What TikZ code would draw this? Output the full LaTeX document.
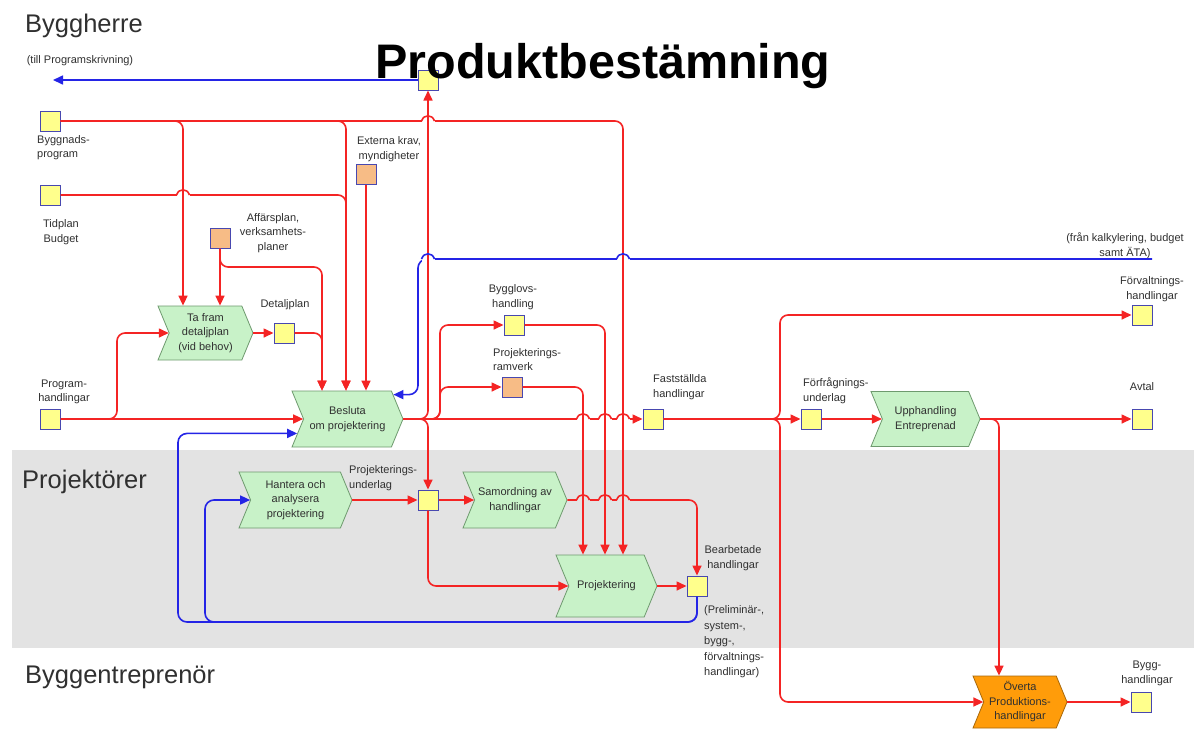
\documentclass[tikz,border=0pt]{standalone}
\usepackage{fontspec}
\setmainfont{Liberation Sans}
\usetikzlibrary{arrows.meta,shapes.symbols}

\definecolor{flowred}{HTML}{F42424}
\definecolor{flowblue}{HTML}{2424E6}
\definecolor{sqedge}{HTML}{4848B0}
\definecolor{sqyellow}{HTML}{FFFF8C}
\definecolor{sqorange}{HTML}{F7BC86}
\definecolor{procgreen}{HTML}{C8F2C8}
\definecolor{procedge}{HTML}{6E9A6E}
\definecolor{takeorange}{HTML}{FF9C0A}
\definecolor{takeedge}{HTML}{A8680A}
\definecolor{band}{HTML}{E3E3E3}
\definecolor{txt}{HTML}{303030}

% a line hopping over a red vertical run: x, y, background, colour of the hopping line
\newcommand\linejump[4]{%
  \fill[#3] (#1-6.5,#2-2.5) rectangle (#1+6.5,#2+2.5);
  \draw[flowred, line width=1.6pt] (#1,#2-5) -- (#1,#2+5);
  \draw[#4, line width=1.6pt] (#1-6.5,#2) .. controls (#1-4,#2-7) and (#1+4,#2-7) .. (#1+6.5,#2);
}

\begin{document}
\begin{tikzpicture}[x=1pt,y=-1pt,
  sq/.style={draw=sqedge, fill=sqyellow, line width=1pt, minimum size=20pt, inner sep=0pt},
  sqo/.style={sq, fill=sqorange},
  proc/.style={signal, signal to=east, signal from=west, signal pointer angle=135,
    draw=procedge, fill=procgreen, line width=0.8pt, text=txt, align=center,
    font=\fontsize{11}{14.5}\selectfont, inner sep=0pt},
  lbl/.style={text=txt, font=\fontsize{11}{14.5}\selectfont, inner sep=0pt},
  lane/.style={text=txt, font=\fontsize{25.5}{28}\selectfont, inner sep=0pt, anchor=base west},
  flow/.style={draw=flowred, line width=1.6pt, rounded corners=8pt},
  bflow/.style={draw=flowblue, line width=1.6pt, rounded corners=9pt},
  arr/.style={-{Triangle[length=10pt,width=9pt]}}
]
\useasboundingbox (0,0) rectangle (1194,729);
\fill[white] (0,0) rectangle (1194,729);
\fill[band] (12,450) rectangle (1194,648);

% swimlane titles
\node[lane] (laneA) at (25,32) {Byggherre};
\node[lane] (laneB) at (22,488) {Projektörer};
\node[lane] (laneC) at (25,683) {Byggentreprenör};

% column coordinates for vertical connector runs
\coordinate (xa) at (183,0);
\coordinate (xb) at (346,0);
\coordinate (xc) at (322,0);
\coordinate (xd) at (623,0);
\coordinate (xe) at (605,0);
\coordinate (xf) at (583,0);
\coordinate (xh) at (999,0);
\coordinate (xk) at (418,0);
\coordinate (xl) at (178,0);
\coordinate (tillpt) at (53,80);
\coordinate (franpt) at (1152,259);

% processes
\node[proc, minimum width=95pt, minimum height=54pt] (tafram) at (205.5,333) {Ta fram\\detaljplan\\(vid behov)};
\node[proc, minimum width=111pt, minimum height=56pt] (besluta) at (347.5,419) {Besluta\\om projektering};
\node[proc, minimum width=113pt, minimum height=56pt] (hantera) at (295.5,500) {Hantera och\\analysera\\projektering};
\node[proc, minimum width=104pt, minimum height=56pt] (samord) at (515,500) {Samordning av\\handlingar};
\node[proc, minimum width=101pt, minimum height=62pt] (projekt) at (606.5,586) {Projektering};
\node[proc, minimum width=109pt, minimum height=55pt] (upph) at (925.5,419) {Upphandling\\Entreprenad};
\node[proc, fill=takeorange, draw=takeedge, minimum width=94pt, minimum height=52pt] (overta) at (1020,702) {Överta\\Produktions-\\handlingar};

% information objects
\node[sq] (top) at (428,80) {};
\node[sq] (bprog) at (50,121) {};
\node[sq] (tid) at (50,195) {};
\node[sqo] (ext) at (366,174) {};
\node[sqo] (aff) at (220,238) {};
\node[sq] (dplan) at (284,333) {};
\node[sq] (proghl) at (50,419) {};
\node[sq] (bygglov) at (514,325) {};
\node[sqo] (ramverk) at (512,387) {};
\node[sq] (fast) at (653,419) {};
\node[sq] (forfr) at (811,419) {};
\node[sq] (forv) at (1142,315) {};
\node[sq] (avtal) at (1142,419) {};
\node[sq] (punder) at (428,500) {};
\node[sq] (bearb) at (697,586) {};
\node[sq] (bygg) at (1141,702) {};

% labels
\node[lbl] (l-till) at (80,61) {(till Programskrivning)};
\node[lbl, anchor=west, align=left] (l-bprog) at (37,147.5) {Byggnads-\\program};
\node[lbl, align=center] (l-tid) at (61,232) {Tidplan\\Budget};
\node[lbl, align=center] (l-ext) at (389,149) {Externa krav,\\myndigheter};
\node[lbl, align=center] (l-aff) at (273,233) {Affärsplan,\\verksamhets-\\planer};
\node[lbl] (l-dplan) at (285,305) {Detaljplan};
\node[lbl, align=center] (l-proghl) at (64,392) {Program-\\handlingar};
\node[lbl, align=center] (l-bygglov) at (513,297) {Bygglovs-\\handling};
\node[lbl, anchor=west, align=left] (l-ramverk) at (493,359.5) {Projekterings-\\ramverk};
\node[lbl, anchor=west, align=left] (l-fast) at (653,387) {Fastställda\\handlingar};
\node[lbl, anchor=west, align=left] (l-forfr) at (803,390.5) {Förfrågnings-\\underlag};
\node[lbl, align=center] (l-forv) at (1152,289) {Förvaltnings-\\handlingar};
\node[lbl] (l-avtal) at (1142,387) {Avtal};
\node[lbl, align=center] (l-fran) at (1125,245.5) {(från kalkylering, budget\\samt ÄTA)};
\node[lbl, anchor=west, align=left] (l-punder) at (349,478) {Projekterings-\\underlag};
\node[lbl, align=center] (l-bearb) at (733,558) {Bearbetade\\handlingar};
\node[lbl, anchor=west, align=left, font=\fontsize{11}{15.5}\selectfont] (l-bearb2) at (704,642) {(Preliminär-,\\system-,\\bygg-,\\förvaltnings-\\handlingar)};
\node[lbl, align=center] (l-bygg) at (1147,673.5) {Bygg-\\handlingar};

% red flows
\draw[flow,arr] (bprog.east) -- (623,121) -- (projekt.north -| xd);
\draw[flow,arr] (bprog.east) -- (183,121) -- (tafram.north -| xa);
\draw[flow,arr] (bprog.east) -- (346,121) -- (besluta.north -| xb);
\draw[flow,arr] (tid.east) -- (346,195) -- (besluta.north -| xb);
\draw[flow,arr] (aff.south) -- (aff.south |- tafram.north);
\draw[flow,arr] (aff.south) -- (220,267) -- (322,267) -- (besluta.north -| xc);
\draw[flow,arr] (ext.south) -- (ext.south |- besluta.north);
\draw[flow,arr] (dplan.east) -- (322,333) -- (besluta.north -| xc);
\draw[flow,arr] (tafram.east) -- (dplan.west);
\draw[flow,arr] (proghl.east) -- (besluta.west);
\draw[flow,arr] (proghl.east) -- (117,419) -- (117,333) -- (tafram.west);
\draw[flow,arr] (besluta.east) -- (428,419) -- (top.south);
\draw[flow,arr] (besluta.east) -- (428,419) -- (punder.north);
\draw[flow,arr] (besluta.east) -- (440,419) -- (440,325) -- (bygglov.west);
\draw[flow,arr] (besluta.east) -- (440,419) -- (440,387) -- (ramverk.west);
\draw[flow,arr] (besluta.east) -- (fast.west);
\draw[flow,arr] (bygglov.east) -- (605,325) -- (projekt.north -| xe);
\draw[flow,arr] (ramverk.east) -- (583,387) -- (projekt.north -| xf);
\draw[flow,arr] (fast.east) -- (forfr.west);
\draw[flow,arr] (fast.east) -- (780,419) -- (780,315) -- (forv.west);
\draw[flow,arr] (fast.east) -- (780,419) -- (780,702) -- (overta.west);
\draw[flow,arr] (forfr.east) -- (upph.west);
\draw[flow,arr] (upph.east) -- (avtal.west);
\draw[flow,arr] (upph.east) -- (999,419) -- (overta.north -| xh);
\draw[flow,arr] (overta.east) -- (bygg.west);
\draw[flow,arr] (hantera.east) -- (punder.west);
\draw[flow,arr] (punder.east) -- (samord.west);
\draw[flow,arr] (punder.south) -- (428,586) -- (projekt.west);
\draw[flow,arr] (samord.east) -- (697,500) -- (bearb.north);
\draw[flow,arr] (projekt.east) -- (bearb.west);

% blue feedback flows
\draw[bflow,arr] (top.west) -- (tillpt);
\draw[bflow,arr] (franpt) -- (418,259) -- (besluta.28 -| xk) -- (besluta.28);
\draw[bflow,arr] (bearb.south) -- (697,622) -- (178,622) -- (besluta.196 -| xl) -- (besluta.196);
\draw[bflow,arr] (bearb.south) -- (697,622) -- (205,622) -- (205,500) -- (hantera.west);

% line jumps where horizontal runs cross vertical ones
\linejump{428}{121}{white}{flowred}
\linejump{183}{195}{white}{flowred}
\linejump{428}{259}{white}{flowblue}
\linejump{623}{259}{white}{flowblue}
\linejump{583}{419}{white}{flowred}
\linejump{605}{419}{white}{flowred}
\linejump{623}{419}{white}{flowred}
\linejump{583}{500}{band}{flowred}
\linejump{605}{500}{band}{flowred}
\linejump{623}{500}{band}{flowred}

% heading
\node[anchor=base west, inner sep=0pt, font=\fontsize{48.5}{50}\selectfont\bfseries] (title) at (375,78) {Produktbestämning};
\end{tikzpicture}
\end{document}
